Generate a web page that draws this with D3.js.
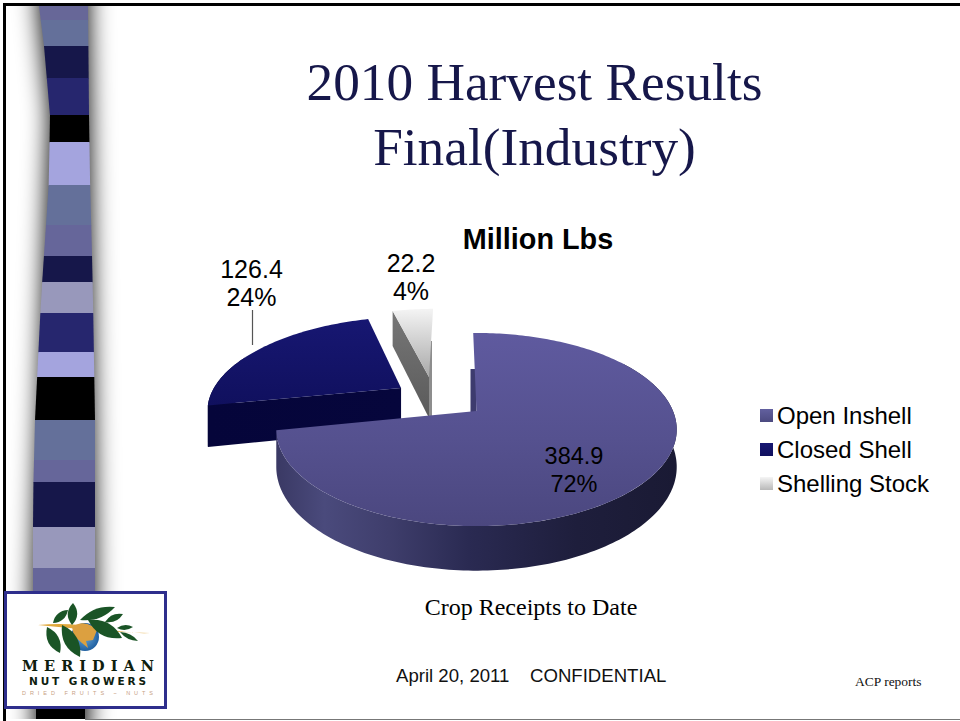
<!DOCTYPE html>
<html><head><meta charset="utf-8">
<script src="https://cdn.jsdelivr.net/npm/d3@7"></script>
<style>html,body{margin:0;padding:0;background:#fff}svg{display:block}</style>
</head><body><div id="c"></div>
<script>
// ---- data ----
const categories = ["Open Inshell", "Closed Shell", "Shelling Stock"];
const values = [384.9, 126.4, 22.2];
const percents = ["72%", "24%", "4%"];
const valueLabels = ["384.9", "126.4", "22.2"];
const titleLines = ["2010 Harvest Results", "Final(Industry)"];
const stripStops = [6, 20, 46, 78, 115, 142, 185, 225, 256, 282, 313, 352, 377, 420, 460, 482, 527, 568, 592];
const stripColors = ["#676798","#64709a","#16174a","#26266e","#000000","#a4a4de","#64709a","#66669a","#16174a","#9898bb","#26266e","#a4a4de","#000000","#64709a","#66669a","#16174a","#9898bb","#66669a"];

const W = 960, H = 721;
const svg = d3.select("#c").append("svg").attr("width", W).attr("height", H);
const defs = svg.append("defs");
const SANS = "'Liberation Sans',Arial,sans-serif", SERIF = "'Liberation Serif','Times New Roman',serif";

function grad(id, x1, y1, x2, y2, stops) {
  const g = defs.append("linearGradient").attr("id", id).attr("x1", x1).attr("y1", y1).attr("x2", x2).attr("y2", y2);
  stops.forEach(s => g.append("stop").attr("offset", s[0]).attr("stop-color", s[1]));
}
grad("openTop", 0, 0, 0, 1, [[0, "#5f5a9f"], [.55, "#55518f"], [1, "#4b477f"]]);
grad("openSide", 0, 0, 1, 0, [[0, "#3a3964"], [.12, "#4a4a7c"], [.28, "#3f3e6c"], [.48, "#2a2a52"], [.75, "#1e1e3c"], [1, "#1a1a34"]]);
grad("closedTop", 0, 0, 0, 1, [[0, "#171772"], [1, "#10105e"]]);
grad("closedSide", 0, 0, 1, 0, [[0, "#05053a"], [1, "#06063c"]]);
grad("shellTop", 0, 0, 0, 1, [[0, "#f4f4f4"], [1, "#a8a8a8"]]);
grad("shellSide", 0, 0, 0, 1, [[0, "#777777"], [1, "#5a5a5a"]]);
grad("legA", 0, 0, 0, 1, [[0, "#62609f"], [1, "#4c4a80"]]);
grad("legB", 0, 0, 0, 1, [[0, "#171772"], [1, "#10105e"]]);
grad("legC", 0, 0, 0, 1, [[0, "#f5f5f5"], [1, "#b8b8b8"]]);
defs.append("filter").attr("id", "soft").attr("x", "-150%").attr("width", "400%").attr("y", "-10%").attr("height", "120%")
  .append("feGaussianBlur").attr("stdDeviation", 12);
defs.append("clipPath").attr("id", "slideClip").append("rect").attr("x", 6).attr("y", 6).attr("width", 954).attr("height", 713);

// ---- slide frame and strip ----
svg.append("rect").attr("width", W).attr("height", H).attr("fill", "#fff");
const leftEdge = d3.scaleLinear().domain([6, 46, 115, 180, 255, 300, 420, 500, 592]).range([39, 44, 50, 49, 44, 41, 35, 33, 33]);
const rightEdge = d3.scaleLinear().domain([6, 115, 180, 255, 300, 420, 592]).range([88, 89, 90, 92, 93, 95, 95]);
const stripG = svg.append("g").attr("clip-path", "url(#slideClip)");
const band = (a, b) => `M${leftEdge(a)},${a}L${rightEdge(a)},${a}L${rightEdge(b)},${b}L${leftEdge(b)},${b}Z`;
stripG.append("path").attr("fill", "#000").attr("filter", "url(#soft)")
  .attr("d", "M39,-40L88,-40L" + rightEdge(6) + ",6L" + rightEdge(592) + ",592L85,760L36,760L" + leftEdge(592) + ",592L" + leftEdge(115) + ",115L" + leftEdge(6) + ",6Z");
stripG.selectAll("path.band").data(stripColors).join("path").attr("class", "band")
  .attr("d", (c, i) => band(stripStops[i], stripStops[i + 1] + (i < stripColors.length - 1 ? .5 : 0))).attr("fill", c => c);
stripG.append("rect").attr("x", 36).attr("y", 700).attr("width", 49).attr("height", 21).attr("fill", "#000");
svg.append("rect").attr("x", 3).attr("y", 3).attr("width", 957).attr("height", 3).attr("fill", "#000");
svg.append("rect").attr("x", 3).attr("y", 3).attr("width", 3).attr("height", 718).attr("fill", "#000");
svg.append("rect").attr("x", 85).attr("y", 719).attr("width", 875).attr("height", 1).attr("fill", "#777");

// ---- titles ----
svg.selectAll("text.t").data(titleLines).join("text").attr("class", "t")
  .attr("x", 534.5).attr("y", (d, i) => 100 + i * 65).attr("text-anchor", "middle")
  .attr("font-family", SERIF).attr("font-size", 53.3).attr("fill", "#16174a").text(d => d);
svg.append("text").attr("x", 538).attr("y", 249).attr("text-anchor", "middle")
  .attr("font-family", SANS).attr("font-weight", "bold").attr("font-size", 28.8).attr("fill", "#000").text("Million Lbs");

// ---- perspective pie ----
const pie = d3.pie().sort(null).value(d => d);
const arcs = pie(values);
const k = 0.192, rot = -0.02, cx = 476.5, cy = 411;
const sliceDepth = [36, 42, 44];
const sx = d3.scaleLinear().domain([-1, 1]).range([cx - 196.5, cx + 196.5]);
const sy = d3.scaleLinear().domain([-1, 1]).range([cy + 93, cy - 93]);
const project = (u, v, down) => {
  const w = 1 + k * v;
  return [cx + (sx(u) - cx) / w, cy + (sy(v) - cy + down) / w];
};
const explode = [[0, 0], [-0.403, 0.259], [-0.26, 0.393]];
const line = d3.line();
function outer(a0, a1, i, bottom) {
  const n = Math.max(2, Math.ceil(Math.abs(a1 - a0) / 0.02));
  return d3.range(n + 1).map(j => {
    const a = a0 + (a1 - a0) * j / n + rot;
    return project(Math.sin(a) + explode[i][0], Math.cos(a) + explode[i][1], bottom ? sliceDepth[i] : 0);
  });
}
const apex = (i, bottom) => project(explode[i][0], explode[i][1], bottom ? sliceDepth[i] : 0);
const poly = pts => line(pts) + "Z";
const pieG = svg.append("g");

// Shelling Stock (rear)
{
  const a = arcs[2], i = 2;
  const edge = outer(a.startAngle, a.startAngle, i, false)[0];
  const edgeB = outer(a.startAngle, a.startAngle, i, true)[0];
  const ap = apex(i, false), apB = apex(i, true);
  pieG.append("path").attr("d", poly([[ap[0], ap[1] - 36], [ap[0] + 3, ap[1] - 36], [apB[0] + 3, apB[1]], [apB[0], apB[1]]])).attr("fill", "#8d8d8d");
  pieG.append("path").attr("d", poly([edge, ap, apB, edgeB])).attr("fill", "url(#shellSide)");
  pieG.append("path").attr("d", poly([ap].concat(outer(a.startAngle, a.endAngle, i, false)))).attr("fill", "url(#shellTop)");
}
// Closed Shell
{
  const a = arcs[1], i = 1;
  const ap = apex(i, false), apB = apex(i, true);
  pieG.append("path").attr("d", poly(outer(a.startAngle, a.startAngle + 0.6, i, false).concat(outer(a.startAngle, a.startAngle + 0.6, i, true).reverse()))).attr("fill", "url(#closedSide)");
  const s = outer(a.startAngle, a.startAngle, i, false)[0], sB = outer(a.startAngle, a.startAngle, i, true)[0];
  pieG.append("path").attr("d", poly([s, ap, apB, sB])).attr("fill", "url(#closedSide)");
  pieG.append("path").attr("d", poly([ap].concat(outer(a.startAngle, a.endAngle, i, false)))).attr("fill", "url(#closedTop)");
}
// Open Inshell (front)
{
  const a = arcs[0], i = 0;
  const ap = apex(i, false);
  const from = 1.0;
  pieG.append("path").attr("d", poly([[ap[0] - 6, ap[1] - 42], [ap[0], ap[1] - 42], [ap[0], ap[1] + 4], [ap[0] - 6, ap[1] + 4]])).attr("fill", "#3d3b6e");
  const top = outer(from, a.endAngle, i, false), bot = outer(from, a.endAngle, i, true);
  pieG.append("path").attr("d", poly(top.concat(bot.reverse()))).attr("fill", "url(#openSide)");
  pieG.append("path").attr("d", poly([ap].concat(outer(a.startAngle, a.endAngle, i, false)))).attr("fill", "url(#openTop)");
}

// ---- data labels ----
const labelPos = [[574, 464], [251.5, 278], [411, 272]];
const labels = svg.append("g").attr("font-family", SANS).attr("fill", "#000").attr("text-anchor", "middle");
values.forEach((v, i) => {
  const fs = i === 0 ? 23.5 : 25;
  labels.append("text").attr("x", labelPos[i][0]).attr("y", labelPos[i][1]).attr("font-size", fs).text(valueLabels[i]);
  labels.append("text").attr("x", labelPos[i][0]).attr("y", labelPos[i][1] + 28).attr("font-size", fs).text(percents[i]);
});
svg.append("line").attr("x1", 252.5).attr("x2", 252.5).attr("y1", 310).attr("y2", 345).attr("stroke", "#555").attr("stroke-width", 1.2);

// ---- legend ----
const legendY = d3.scalePoint().domain(categories).range([424, 492]);
const lg = svg.append("g").selectAll("g").data(categories).join("g")
  .attr("transform", d => `translate(760,${legendY(d)})`);
lg.append("rect").attr("x", 0).attr("y", -15).attr("width", 13).attr("height", 13).attr("fill", (d, i) => `url(#leg${"ABC"[i]})`);
lg.append("text").attr("x", 17).attr("y", 0).attr("font-family", SANS).attr("font-size", 24).attr("fill", "#000").text(d => d);

// ---- footer ----
svg.append("text").attr("x", 531).attr("y", 615).attr("text-anchor", "middle").attr("font-family", SERIF).attr("font-size", 24).attr("fill", "#000").text("Crop Receipts to Date");
svg.append("text").attr("x", 396).attr("y", 682).attr("font-family", SANS).attr("font-size", 18.6).attr("fill", "#111").style("white-space", "pre").text("April 20, 2011    CONFIDENTIAL");
svg.append("text").attr("x", 855).attr("y", 686).attr("font-family", SERIF).attr("font-size", 13.5).attr("fill", "#111").text("ACP reports");

// ---- logo ----
const logo = svg.append("g");
logo.append("rect").attr("x", 5.5).attr("y", 592.5).attr("width", 160).attr("height", 115).attr("fill", "#fff").attr("stroke", "#2e2e8c").attr("stroke-width", 3);
logo.append("path").attr("d", "M38,625Q70,622 100,628T150,633Q110,632 90,630T38,625Z").attr("fill", "#e0a83c");
const globe = defs.append("radialGradient").attr("id", "globe");
globe.append("stop").attr("offset", 0).attr("stop-color", "#6aa8d8");
globe.append("stop").attr("offset", 1).attr("stop-color", "#1f5fa0");
logo.append("circle").attr("cx", 85).attr("cy", 637).attr("r", 14).attr("fill", "url(#globe)");
logo.append("path").attr("d", "M72,627Q82,620 92,626L97,630L93,640L86,641L88,648L82,643L74,636Z").attr("fill", "#dca040");
const leaves = [[47,627,60,653,6],[62,625,80,657,7],[53,623,68,610,4],[72,625,73,603,5],[80,620,115,607,5],[88,620,122,638,7],[105,622,123,614,3.5],[117,628,133,627,2.5],[120,632,138,641,2.5]];
logo.selectAll("path.leaf").data(leaves).join("path").attr("class", "leaf")
  .attr("d", d => {
    const [x0, y0, x1, y1, w] = d, mx = (x0 + x1) / 2, my = (y0 + y1) / 2;
    const L = Math.hypot(x1 - x0, y1 - y0), nx = -(y1 - y0) / L * w * 1.9, ny = (x1 - x0) / L * w * 1.9;
    return `M${x0},${y0}Q${mx + nx},${my + ny} ${x1},${y1}Q${mx - nx},${my - ny} ${x0},${y0}Z`;
  }).attr("fill", "#1a5426");
logo.append("text").attr("x", 22).attr("y", 670.5).attr("font-family", "'DejaVu Serif',serif").attr("font-weight", "bold").attr("font-size", 14.5).attr("textLength", 132).attr("lengthAdjust", "spacing").attr("fill", "#0e200e").text("MERIDIAN");
logo.append("text").attr("x", 29).attr("y", 685).attr("font-family", "'DejaVu Sans',sans-serif").attr("font-weight", "bold").attr("font-size", 10.5).attr("textLength", 117).attr("lengthAdjust", "spacing").attr("fill", "#0e200e").text("NUT GROWERS");
logo.append("text").attr("x", 22).attr("y", 695).attr("font-family", SANS).attr("font-size", 5.5).attr("textLength", 131).attr("lengthAdjust", "spacing").attr("fill", "#c8a184").text("DRIED FRUITS ~ NUTS");
</script></body></html>
